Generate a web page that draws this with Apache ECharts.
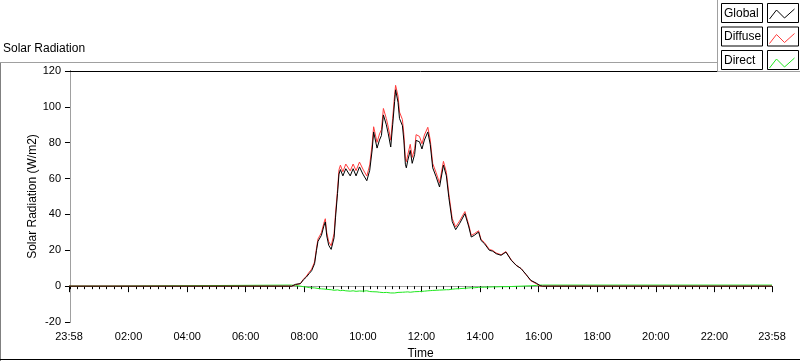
<!DOCTYPE html>
<html>
<head>
<meta charset="utf-8">
<title>Solar Radiation</title>
<script src="https://cdn.jsdelivr.net/npm/echarts@6/dist/echarts.min.js"></script>
<style>
  html, body { margin: 0; padding: 0; background: #fff; }
  #chart { width: 800px; height: 361px; }
</style>
</head>
<body>
<div id="chart"></div>
<script>
// minutes after midnight; -2 is 23:58 of the day before, 1438 is 23:58
var times = [-2, 88, 90, 454, 462, 472, 478, 484, 490, 495, 501, 505, 508, 515, 520, 523, 526, 530, 535, 541,
    544, 548, 551, 554, 559, 565, 569, 574, 580, 586, 593, 600, 608, 614, 619, 622, 629, 634, 638, 642,
    648, 652, 657, 661, 665, 667, 672, 675, 681, 684, 687, 689, 692, 697, 701, 706, 709, 716, 721, 726,
    733, 738, 743, 750, 757, 765, 771, 776, 783, 790, 798, 809, 817, 822, 828, 837, 842, 849, 859, 866,
    873, 883, 893, 904, 914, 924, 934, 944, 955, 963, 968, 1438];

var globalVals = [0, 0, 0, 0, 1.0, 1.4, 3.5, 5.0, 7.0, 8.6, 12.5, 20, 25, 28.3, 33.5, 35.8, 28, 22.8, 20.5, 27,
    38.5, 51.6, 62.5, 65, 61.5, 65.5, 66.5, 61.5, 65.5, 61.5, 66.5, 62.5, 58.8, 64.6, 76, 86, 77, 81.5, 84, 95.5,
    90, 85, 77.6, 90, 103, 109.5, 102.5, 93.5, 89.5, 81, 68, 66, 70.2, 75.7, 68.5, 73.5, 81.3, 80.5, 76.5, 81.5,
    86, 79, 66, 61, 55.3, 67.5, 61.5, 49.5, 36, 31.5, 34.9, 40.4, 33, 27.4, 28.3, 30.2, 25.5, 23.7, 20, 19.5,
    18.1, 17.2, 19, 14.4, 11.6, 9.8, 6.6, 3.2, 1.7, 0.3, 0, 0];

var diffuseVals = [0, 0, 0, 0, 0.8, 1.4, 3.8, 5.5, 7.8, 9.5, 13.5, 21.2, 26.3, 29.8, 35.1, 37.6, 29.8, 24.8, 22.5, 29.3,
    40.8, 53.7, 64.9, 67.5, 63.8, 68.1, 69.0, 64.3, 68.1, 64.4, 69.2, 65.3, 61.4, 67.6, 79.1, 88.9, 80.2, 84.9, 87.3, 99.1,
    93.5, 88.7, 81.4, 93.6, 106.8, 112, 106, 97.1, 92.9, 84.5, 71.3, 69.4, 73.4, 79.1, 71.8, 76.6, 84.5, 83.5, 79.4, 84.3,
    88.6, 81.5, 68.4, 63.3, 57.5, 69.6, 63.5, 51.5, 37.7, 33.0, 36.3, 41.6, 34.0, 28.3, 29.2, 30.9, 26.1, 24.3, 20.5, 19.9,
    18.5, 17.5, 19.3, 14.6, 11.7, 9.8, 6.5, 3.0, 1.4, 0, 0, 0];

var directVals = [0, 0, 0.6, 0.6, 0.3, 0, -0.3, -0.5, -0.8, -0.9, -1.0, -1.2, -1.3, -1.5, -1.6, -1.8, -1.8, -2.0, -2.0, -2.3,
    -2.3, -2.1, -2.4, -2.5, -2.3, -2.6, -2.5, -2.8, -2.6, -2.9, -2.7, -2.8, -2.6, -3.0, -3.1, -2.9, -3.2, -3.4, -3.3, -3.6,
    -3.5, -3.7, -3.8, -3.6, -3.8, -3.7, -3.5, -3.6, -3.4, -3.5, -3.3, -3.4, -3.2, -3.4, -3.3, -3.1, -3.2, -3.0, -2.9, -2.8,
    -2.6, -2.5, -2.4, -2.3, -2.2, -2.1, -2.0, -2.0, -1.7, -1.5, -1.4, -1.2, -1.0, -0.9, -0.9, -0.7, -0.6, -0.6, -0.5, -0.4,
    -0.4, -0.3, -0.3, -0.2, -0.1, 0, 0.1, 0.2, 0.4, 0.6, 0.6, 0.6];

var majorTicks = [-2, 120, 240, 360, 480, 600, 720, 840, 960, 1080, 1200, 1320, 1438];
var tickLabels = ['23:58', '02:00', '04:00', '06:00', '08:00', '10:00', '12:00',
    '14:00', '16:00', '18:00', '20:00', '22:00', '23:58'];
var seriesNames = ['Global', 'Diffuse', 'Direct'];
var seriesColors = ['#000000', '#ff3b3b', '#1ee81e'];

// small ticks every 15 minutes
var minorTicks = [];
for (var m = 0; m < 1438; m += 15) {
    minorTicks.push(m);
}

function pairs(vals) {
    var out = [];
    for (var i = 0; i < times.length; i++) {
        out.push([times[i], vals[i]]);
    }
    return out;
}

var FONT = 'Liberation Sans';
var zigzag = 'path://M0,0M31,19M2,15L9,6L17,14L27,5';

// legend panel: white box, framed name boxes and framed icons
var legendGraphics = [
    {type: 'rect', z: 10, shape: {x: 717.5, y: -1.5, width: 90, height: 73}, style: {fill: '#fff', stroke: '#a0a0a0', lineWidth: 1}}
];
seriesNames.forEach(function (n, i) {
    var top = 3.5 + i * 23.5;
    legendGraphics.push(
        {type: 'rect', z: 30, shape: {x: 721.5, y: top, width: 41, height: 19}, style: {fill: '#fff', stroke: '#000', lineWidth: 1}},
        {type: 'text', z: 31, style: {text: n, x: 724, y: top + 10, verticalAlign: 'middle', font: '12px "Liberation Sans"', fill: '#000'}},
        {type: 'rect', z: 30, shape: {x: 767.5, y: top, width: 31, height: 19}, style: {fill: 'none', stroke: '#000', lineWidth: 1}}
    );
});

var myChart = echarts.init(document.getElementById('chart'));
var option = {
    animation: false,
    backgroundColor: '#fff',
    title: {
        text: 'Solar Radiation',
        left: 3,
        top: 43,
        padding: 0,
        textStyle: {
            fontFamily: FONT,
            fontSize: 12,
            fontWeight: 'normal',
            color: '#000'
        }
    },
    legend: {
        z: 20,
        orient: 'vertical',
        align: 'right',
        right: 1,
        top: 3.5,
        padding: 0,
        itemGap: 4.5,
        itemWidth: 31,
        itemHeight: 19,
        selectedMode: false,
        data: seriesNames.map(function (n, i) {
            return {
                name: n,
                icon: zigzag,
                itemStyle: {color: 'rgba(0,0,0,0)', borderColor: seriesColors[i], borderWidth: 1}
            };
        }),
        formatter: function () {
            return '';
        }
    },
    grid: {
        left: 69,
        right: 28,
        top: 71,
        bottom: 39,
        outerBoundsMode: 'none'
    },
    xAxis: [
        {
            type: 'value',
            min: -2,
            max: 1438,
            name: 'Time',
            nameLocation: 'middle',
            nameGap: 26,
            nameMoveOverlap: false,
            nameTextStyle: {fontFamily: FONT, fontSize: 12, color: '#000'},
            splitLine: {show: false},
            axisLine: {lineStyle: {color: '#a0a0a0', width: 1}},
            axisTick: {
                show: true,
                length: 3,
                customValues: minorTicks,
                lineStyle: {color: '#000'}
            },
            axisLabel: {
                customValues: majorTicks,
                margin: 9,
                fontFamily: FONT,
                fontSize: 11,
                color: '#000',
                formatter: function (v) {
                    var k = majorTicks.indexOf(v);
                    return k >= 0 ? tickLabels[k] : '';
                }
            }
        },
        {
            type: 'value',
            min: -2,
            max: 1438,
            position: 'bottom',
            splitLine: {show: false},
            axisLine: {show: false},
            axisLabel: {show: false},
            axisTick: {
                show: true,
                length: 6,
                customValues: majorTicks,
                lineStyle: {color: '#000'}
            }
        },
        {
            type: 'value',
            min: -2,
            max: 1438,
            position: 'top',
            splitLine: {show: false},
            axisLabel: {show: false},
            axisTick: {show: false},
            axisLine: {lineStyle: {color: '#000', width: 1}}
        }
    ],
    yAxis: [
        {
            type: 'value',
            min: -20,
            max: 120,
            interval: 20,
            name: 'Solar Radiation (W/m2)',
            nameLocation: 'middle',
            nameGap: 30,
            nameMoveOverlap: false,
            nameTextStyle: {fontFamily: FONT, fontSize: 12, color: '#000'},
            splitLine: {show: false},
            axisLine: {show: true, lineStyle: {color: '#000', width: 1}},
            axisTick: {show: true, length: 5, lineStyle: {color: '#000'}},
            axisLabel: {margin: 8, fontFamily: FONT, fontSize: 11, color: '#000'}
        },
        {
            type: 'value',
            min: -20,
            max: 120,
            interval: 20,
            position: 'right',
            splitLine: {show: false},
            axisLabel: {show: false},
            axisTick: {show: false},
            axisLine: {show: true, lineStyle: {color: '#a0a0a0', width: 1}}
        }
    ],
    graphic: [
        // panel frame
        {type: 'line', z: 1, shape: {x1: 0.5, y1: 62.5, x2: 0.5, y2: 361}, style: {stroke: '#808080', lineWidth: 1}},
        {type: 'line', z: 1, shape: {x1: 0, y1: 62.5, x2: 720, y2: 62.5}, style: {stroke: '#a0a0a0', lineWidth: 1}},
        {type: 'line', z: 1, shape: {x1: 0, y1: 359.5, x2: 800, y2: 359.5}, style: {stroke: '#000', lineWidth: 1}}
    ].concat(legendGraphics),
    series: [
        {
            name: 'Direct',
            type: 'line',
            showSymbol: false,
            color: seriesColors[2],
            lineStyle: {width: 1, color: seriesColors[2]},
            data: pairs(directVals)
        },
        {
            name: 'Diffuse',
            type: 'line',
            showSymbol: false,
            color: seriesColors[1],
            lineStyle: {width: 1, color: seriesColors[1]},
            data: pairs(diffuseVals)
        },
        {
            name: 'Global',
            type: 'line',
            showSymbol: false,
            color: seriesColors[0],
            lineStyle: {width: 1, color: seriesColors[0]},
            data: pairs(globalVals)
        }
    ]
};
myChart.setOption(option);
</script>
</body>
</html>
